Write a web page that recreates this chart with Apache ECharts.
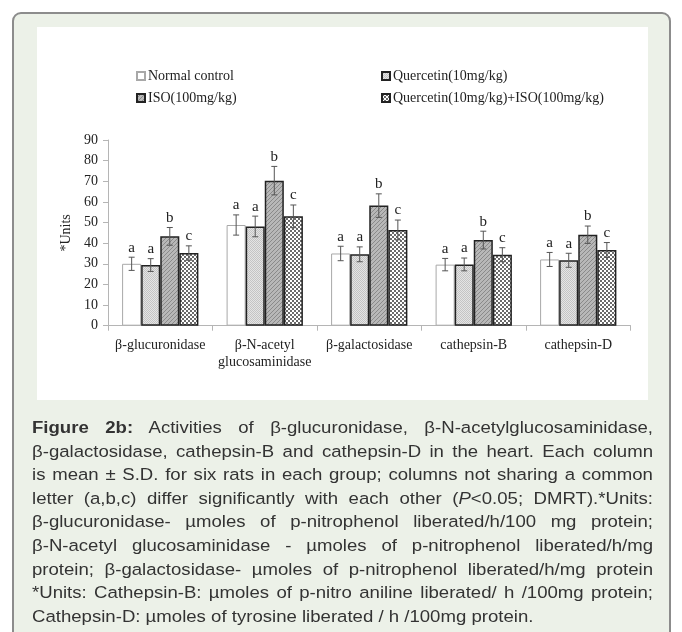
<!DOCTYPE html>
<html>
<head>
<meta charset="utf-8">
<script src="https://cdn.jsdelivr.net/npm/echarts@6/dist/echarts.min.js"></script>
<style>
  html, body { margin:0; padding:0; width:682px; height:632px; overflow:hidden; background:#ffffff; }
  #frame { position:absolute; left:12px; top:12px; width:659px; height:660px; border:2px solid #8c8c8c; border-radius:9px; background:#ecf1e8; box-sizing:border-box; }
  #panel { position:absolute; left:37px; top:27px; width:611px; height:373px; background:#ffffff; }
  #chart { position:absolute; left:0; top:0; width:682px; height:632px; }
  #caption { position:absolute; left:32px; top:416px; width:544px; transform:scaleX(1.1415); transform-origin:0 0; font-family:"Liberation Sans", Arial, sans-serif; font-size:16.3px; line-height:23.6px; color:#333; }
  #caption div { white-space:nowrap; text-align:justify; text-align-last:justify; }
  #caption div.last { text-align:left; text-align-last:left; }
</style>
</head>
<body>
<div id="frame"></div>
<div id="panel"></div>
<div id="chart"></div>
<div id="caption">
  <div><b>Figure 2b:</b> Activities of β-glucuronidase, β-N-acetylglucosaminidase,</div>
  <div>β-galactosidase, cathepsin-B and cathepsin-D in the heart. Each column</div>
  <div>is mean ± S.D. for six rats in each group; columns not sharing a common</div>
  <div>letter (a,b,c) differ significantly with each other (<i>P</i>&lt;0.05; DMRT).*Units:</div>
  <div>β-glucuronidase- µmoles of p-nitrophenol liberated/h/100 mg protein;</div>
  <div>β-N-acetyl glucosaminidase - µmoles of p-nitrophenol liberated/h/mg</div>
  <div>protein; β-galactosidase- µmoles of p-nitrophenol liberated/h/mg protein</div>
  <div>*Units: Cathepsin-B: µmoles of p-nitro aniline liberated/ h /100mg protein;</div>
  <div class="last">Cathepsin-D: µmoles of tyrosine liberated / h /100mg protein.</div>
</div>
<script>
// ---- data ----
const categories = ['β-glucuronidase', 'β-N-acetyl\nglucosaminidase', 'β-galactosidase', 'cathepsin-B', 'cathepsin-D'];
const seriesNames = ['Normal control', 'Quercetin(10mg/kg)', 'ISO(100mg/kg)', 'Quercetin(10mg/kg)+ISO(100mg/kg)'];
const normalControl = [30.0, 48.8, 35.0, 29.6, 32.1];
const normalControlSD = [3.2, 4.9, 3.5, 3.0, 3.4];
const quercetin = [29.4, 48.1, 34.6, 29.7, 31.7];
const quercetinSD = [3.1, 5.0, 3.6, 3.1, 3.4];
const iso = [43.3, 70.3, 58.2, 41.5, 44.1];
const isoSD = [4.3, 6.9, 5.7, 4.3, 4.2];
const quercetinIso = [35.2, 53.0, 46.4, 34.4, 36.7];
const quercetinIsoSD = [3.5, 5.5, 4.8, 3.4, 3.6];
const normalControlLetters = ['a', 'a', 'a', 'a', 'a'];
const quercetinLetters = ['a', 'a', 'a', 'a', 'a'];
const isoLetters = ['b', 'b', 'b', 'b', 'b'];
const quercetinIsoLetters = ['c', 'c', 'c', 'c', 'c'];
const yTicks = { min: 0, max: 90, interval: 10 };

// ---- patterns ----
function makePattern(size, draw) {
  const c = document.createElement('canvas');
  c.width = size; c.height = size;
  const ctx = c.getContext('2d');
  draw(ctx, size);
  return { image: c, repeat: 'repeat' };
}
const dotPattern = makePattern(2, (ctx) => {
  ctx.fillStyle = '#e4e4e4'; ctx.fillRect(0, 0, 2, 2);
  ctx.fillStyle = '#c4c4c4'; ctx.fillRect(0, 0, 1, 1); ctx.fillRect(1, 1, 1, 1);
});
const hatchPattern = makePattern(4, (ctx) => {
  ctx.fillStyle = '#b8b8b8'; ctx.fillRect(0, 0, 4, 4);
  ctx.fillStyle = '#8a8a8a';
  for (let i = 0; i < 4; i++) { ctx.fillRect((3 - i) % 4, i, 1, 1); }
});
const checkPattern = makePattern(4, (ctx) => {
  ctx.fillStyle = '#ffffff'; ctx.fillRect(0, 0, 4, 4);
  ctx.fillStyle = '#6a6a6a'; ctx.fillRect(0, 0, 2, 2); ctx.fillRect(2, 2, 2, 2);
});

const means = [normalControl, quercetin, iso, quercetinIso];
const sds = [normalControlSD, quercetinSD, isoSD, quercetinIsoSD];
const letters = [normalControlLetters, quercetinLetters, isoLetters, quercetinIsoLetters];
const fills = ['#ffffff', dotPattern, hatchPattern, checkPattern];
const borders = ['#a8a8a8', '#222222', '#222222', '#222222'];
const borderWidths = [1, 1.5, 1.5, 1.5];
const catGap = 0.27;

const errData = [];
const errLetters = [];
for (let s = 0; s < 4; s++) {
  for (let c = 0; c < categories.length; c++) {
    errData.push([c, s, means[s][c], sds[s][c]]);
    errLetters.push(letters[s][c]);
  }
}

const serif = '"Liberation Serif", "Times New Roman", serif';

const barSeries = seriesNames.map((name, s) => ({
  name: name,
  type: 'bar',
  data: means[s],
  barGap: '0%',
  barCategoryGap: (catGap * 100) + '%',
  itemStyle: { color: fills[s], borderColor: borders[s], borderWidth: borderWidths[s] },
  emphasis: { disabled: true },
  z: 2
}));

const errSeries = {
  type: 'custom',
  data: errData,
  z: 5,
  silent: true,
  encode: { x: 0, y: 2 },
  renderItem: function (params, api) {
    const d = errData[params.dataIndex];
    const cat = d[0], s = d[1], m = d[2], sd = d[3];
    const band = api.size([1, 0])[0];
    const bw = band * (1 - catGap) / 4;
    const center = api.coord([cat, 0])[0];
    const x = center + (s - 1.5) * bw;
    const yTop = api.coord([cat, m + sd])[1];
    const yBot = api.coord([cat, m - sd])[1];
    const cap = 3;
    const st = { stroke: '#555555', lineWidth: 1 };
    return {
      type: 'group',
      children: [
        { type: 'line', shape: { x1: x, y1: yTop, x2: x, y2: yBot }, style: st },
        { type: 'line', shape: { x1: x - cap, y1: yTop, x2: x + cap, y2: yTop }, style: st },
        { type: 'line', shape: { x1: x - cap, y1: yBot, x2: x + cap, y2: yBot }, style: st },
        { type: 'text', style: { text: errLetters[params.dataIndex], x: x, y: yTop - 2, textAlign: 'center', textVerticalAlign: 'bottom', font: '15px ' + serif, fill: '#222222' } }
      ]
    };
  }
};

const chart = echarts.init(document.getElementById('chart'), null, { renderer: 'canvas' });
chart.setOption({
  backgroundColor: 'transparent',
  animation: false,
  legend: [
    {
      data: [seriesNames[0], seriesNames[2]],
      orient: 'vertical', left: 131, top: 64,
      itemWidth: 8, itemHeight: 8, itemGap: 8,
      icon: 'rect',
      textStyle: { fontFamily: serif, fontSize: 14, color: '#222', lineHeight: 14, padding: [0, 0, 0, -2] }
    },
    {
      data: [seriesNames[1], seriesNames[3]],
      orient: 'vertical', left: 376, top: 64,
      itemWidth: 8, itemHeight: 8, itemGap: 8,
      icon: 'rect',
      textStyle: { fontFamily: serif, fontSize: 14, color: '#222', lineHeight: 14, padding: [0, 0, 0, -2] }
    }
  ],
  grid: { left: 108, right: 51.5, top: 140, bottom: 306.3, containLabel: false },
  xAxis: {
    type: 'category',
    data: categories,
    axisLine: { lineStyle: { color: '#b5b5b5', width: 1 } },
    axisTick: { show: true, length: 5, lineStyle: { color: '#b5b5b5' } },
    axisLabel: { fontFamily: serif, fontSize: 14, color: '#222', margin: 11, lineHeight: 17, interval: 0 }
  },
  yAxis: {
    type: 'value',
    min: yTicks.min, max: yTicks.max, interval: yTicks.interval,
    name: '*Units',
    nameLocation: 'middle',
    nameGap: 32,
    nameRotate: 90,
    nameTextStyle: { fontFamily: serif, fontSize: 14, color: '#222' },
    axisLine: { show: true, lineStyle: { color: '#b5b5b5', width: 1 } },
    axisTick: { show: true, length: 5, lineStyle: { color: '#b5b5b5' } },
    splitLine: { show: false },
    axisLabel: { fontFamily: serif, fontSize: 14, color: '#222', margin: 10 }
  },
  series: barSeries.concat([errSeries])
});
</script>
</body>
</html>
